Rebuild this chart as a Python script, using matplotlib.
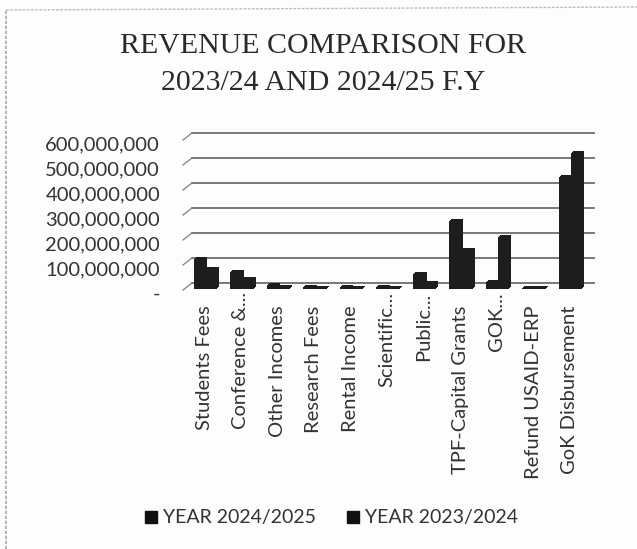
import numpy as np
import matplotlib
matplotlib.use("Agg")
import matplotlib.pyplot as plt
from matplotlib.lines import Line2D
from matplotlib.patches import Rectangle
from matplotlib.transforms import ScaledTranslation

categories = ["Students Fees", "Conference &...", "Other Incomes", "Research Fees",
              "Rental Income", "Scientific...", "Public...", "TPF-Capital Grants",
              "GOK...", "Refund USAID-ERP", "GoK Disbursement"]
year_2425 = [120e6, 68e6, 15e6, 8e6, 8e6, 8e6, 61e6, 271e6, 28e6, 6e6, 448e6]
year_2324 = [79e6, 41e6, 8e6, 6e6, 6e6, 6e6, 24e6, 156e6, 208e6, 4e6, 545e6]
series_labels = ["YEAR 2024/2025", "YEAR 2023/2024"]
yticks = [0, 100e6, 200e6, 300e6, 400e6, 500e6, 600e6]
yticklabels = ["-", "100,000,000", "200,000,000", "300,000,000",
               "400,000,000", "500,000,000", "600,000,000"]

W, H = 637, 549
DARK = "#1d1d1d"
TEXT = "#333333"


def px_shift(fig, dx, dy):
    # screen pixel offset, y pointing down
    return ScaledTranslation(dx / 100, -dy / 100, fig.dpi_scale_trans)


def main():
    fig = plt.figure(figsize=(W / 100, H / 100), dpi=100, facecolor="#fdfdfd")
    ax = fig.add_axes([183 / W, 1 - 290 / H, 402 / W, 150 / H])
    ax.patch.set_visible(False)
    ax.set_xlim(-0.5, len(categories) - 0.5)
    ax.set_ylim(0, 600e6)
    for s in ax.spines.values():
        s.set_visible(False)

    # back wall gridlines and the short slanted side ticks
    for v in yticks:
        ax.plot([-0.5, 10.5], [v, v], color="#6e6e6e", lw=1.3, clip_on=False,
                transform=ax.transData + px_shift(fig, 9, -7), zorder=1)
        x0, y0 = ax.transData.transform((-0.5, v))
        fig.add_artist(Line2D([x0 / W, (x0 + 9) / W], [y0 / H, (y0 + 7) / H],
                              color="#808080", lw=0.9))

    # three stacked copies give the bars their depth
    x = np.arange(len(categories))
    w = 0.32
    for dx, dy, z in [(6, -3, 2), (5, -2, 3), (4, -1, 4)]:
        tr = ax.transData + px_shift(fig, dx, dy)
        ax.bar(x - w / 2, year_2425, w, color=DARK, clip_on=False, zorder=z, transform=tr)
        ax.bar(x + w / 2, year_2324, w, color=DARK, clip_on=False, zorder=z, transform=tr)

    ax.set_xticks(x, categories, rotation=90, fontsize=14.5, color=TEXT, family="Lato")
    ax.set_yticks(yticks, yticklabels, fontsize=14.5, color=TEXT, family="Lato")
    ax.tick_params(length=0, axis="both")
    ax.tick_params(axis="x", pad=11)
    ax.tick_params(axis="y", pad=16.5)
    for lab, name in zip(ax.get_xticklabels(), categories):
        # truncated labels run further up, the dots reach towards the bars
        dy = -13 if name.endswith("...") else 0
        lab.set_transform(lab.get_transform() + px_shift(fig, 3, dy))
    for lab in ax.get_yticklabels():
        lab.set_transform(lab.get_transform() + px_shift(fig, 0, 3))

    fig.text(323 / W, 1 - 46 / H, "REVENUE COMPARISON FOR", ha="center", va="center",
             family="Liberation Serif", fontsize=21.5, color="#2a2a2a")
    fig.text(323 / W, 1 - 83 / H, "2023/24 AND 2024/25 F.Y", ha="center", va="center",
             family="Liberation Serif", fontsize=21.5, color="#2a2a2a")

    # legend squares and labels
    for px, label in zip([145, 347], series_labels):
        fig.add_artist(Rectangle((px / W, 1 - 523 / H), 12 / W, 12 / H, color="#111111",
                                 transform=fig.transFigure))
        fig.text((px + 18) / W, 1 - 517 / H, label, ha="left", va="center",
                 fontsize=14, color=TEXT, family="Lato")

    # frame line of the scanned page
    fig.add_artist(Line2D([6 / W, 6 / W], [0, 1 - 10 / H], color="#a8a8a8", lw=1.2,
                          ls=(0, (2, 1))))
    fig.add_artist(Line2D([6 / W, 1], [1 - 10 / H, 1 - 7 / H], color="#bdbdbd", lw=1,
                          ls=(0, (2, 1))))

    fig.savefig("out.png", dpi=100, facecolor=fig.get_facecolor())


if __name__ == "__main__":
    main()
